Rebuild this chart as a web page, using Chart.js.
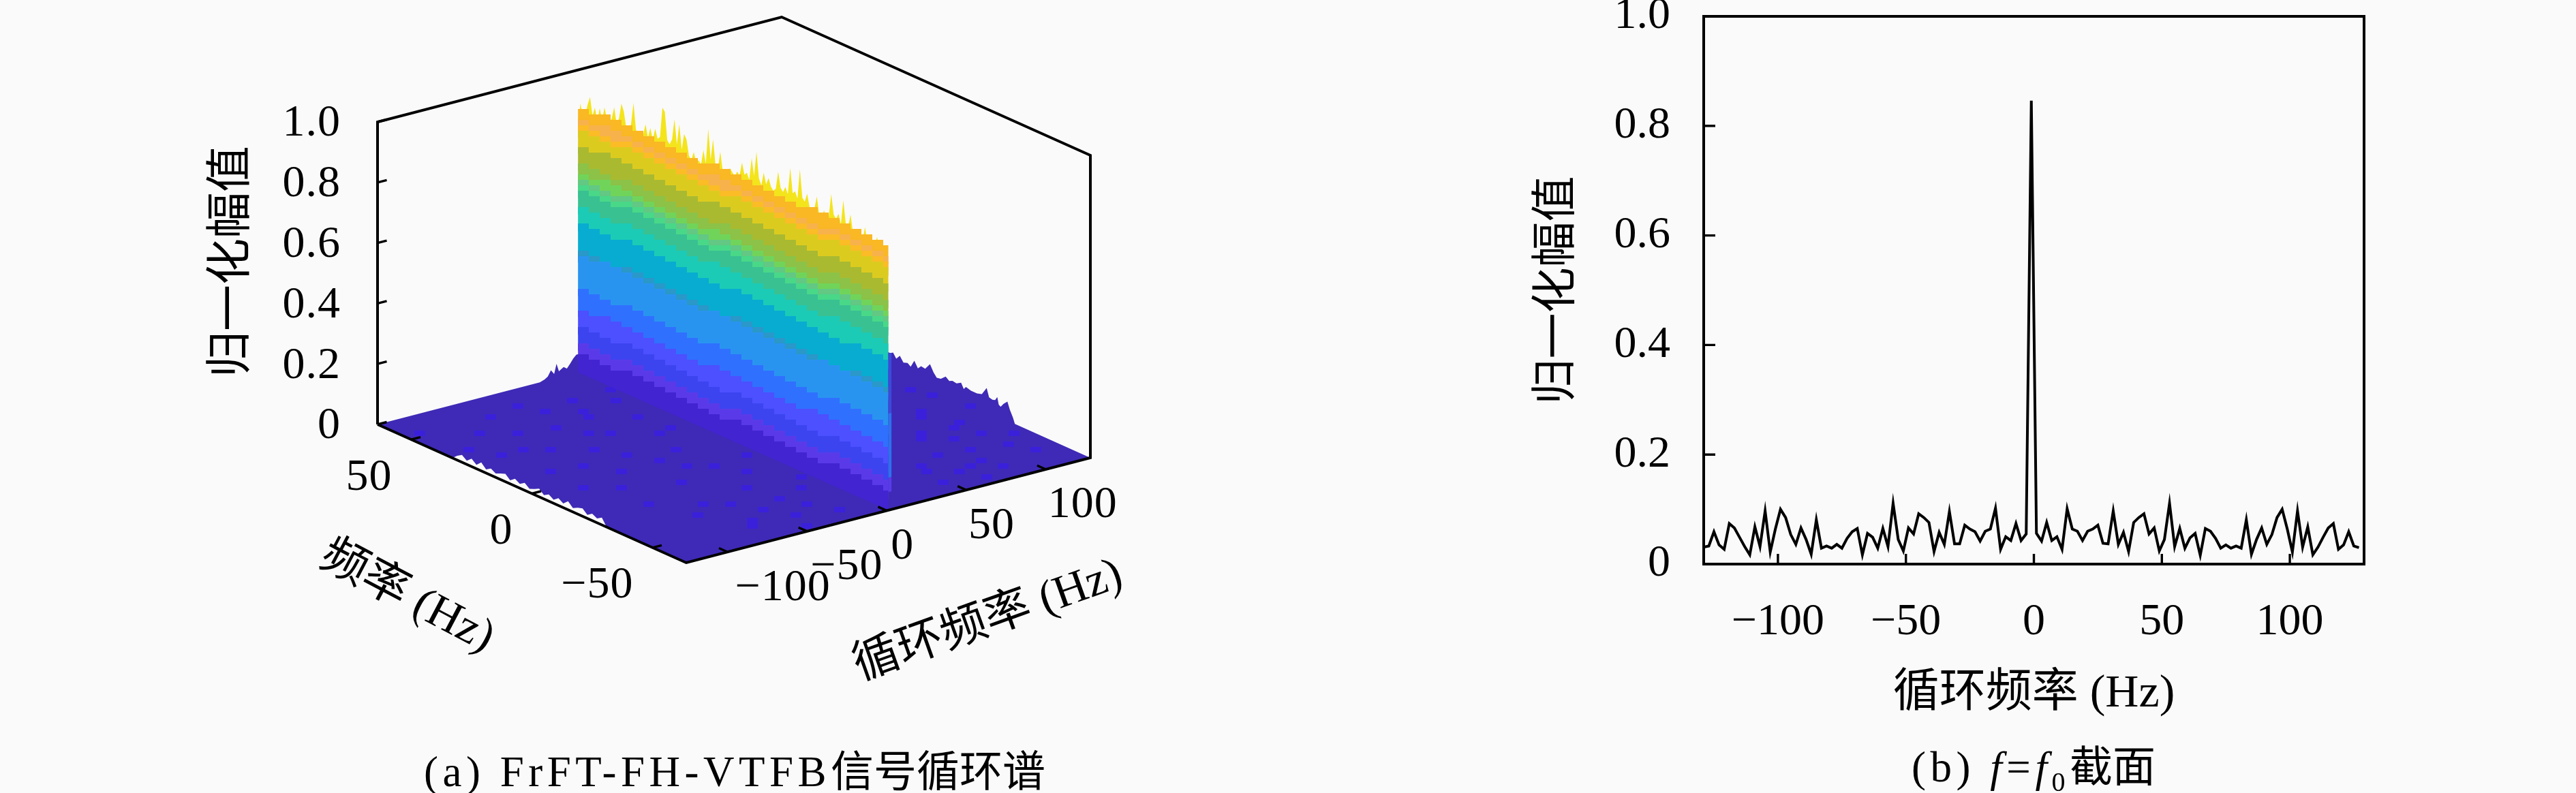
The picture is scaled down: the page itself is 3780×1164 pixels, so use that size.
<!DOCTYPE html>
<html>
<head>
<meta charset="utf-8">
<script src="https://cdn.jsdelivr.net/npm/chart.js@4/dist/chart.umd.min.js"></script>
<style>
  html, body { margin: 0; padding: 0; background: #fafafa; width: 3780px; height: 1164px; overflow: hidden; }
  canvas { position: absolute; top: 0; }
  .cap { position: absolute; white-space: nowrap; transform: translateX(-50%); color: #000;
         font-family: "Liberation Serif", "Noto Sans CJK SC"; font-size: 63px; line-height: 70px; }
  .cap .lat { letter-spacing: 6.5px; }
  .cap sub { font-size: 40px; line-height: 0; }
</style>
</head>
<body>
<canvas id="surf" width="1890" height="1164" style="left:0"></canvas>
<canvas id="slice" width="1300" height="1164" style="left:2200px"></canvas>
<div class="cap" style="left:1078px;top:1098px"><span class="lat">(a) FrFT-FH-VTFB</span>信号循环谱</div>
<div class="cap" style="left:2984px;top:1091px"><span class="lat">(b) <i>f</i>=<i>f</i><sub>0</sub></span>截面</div>
<script>
// ---- right panel: slice at f = f0
const cycleFreq = [-129,-127,-125,-123,-121,-119,-117,-115,-113,-111,-109,-107,-105,-103,-101,-99,-97,-95,-93,-91,-89,-87,-85,-83,-81,-79,-77,-75,-73,-71,-69,-67,-65,-63,-61,-59,-57,-55,-53,-51,-49,-47,-45,-43,-41,-39,-37,-35,-33,-31,-29,-27,-25,-23,-21,-19,-17,-15,-13,-11,-9,-7,-5,-3,-1,1,3,5,7,9,11,13,15,17,19,21,23,25,27,29,31,33,35,37,39,41,43,45,47,49,51,53,55,57,59,61,63,65,67,69,71,73,75,77,79,81,83,85,87,89,91,93,95,97,99,101,103,105,107,109,111,113,115,117,119,121,123,125,127];
const sliceAmp = [.031,.033,.059,.035,.027,.074,.066,.049,.032,.017,.068,.032,.097,.022,.064,.100,.085,.054,.036,.066,.045,.018,.081,.029,.033,.029,.036,.029,.047,.059,.065,.017,.056,.049,.029,.065,.032,.111,.045,.024,.066,.055,.092,.085,.076,.023,.058,.036,.096,.037,.037,.071,.064,.059,.042,.060,.064,.102,.027,.050,.043,.074,.043,.055,
  .846,
  .056,.042,.076,.043,.050,.027,.101,.064,.060,.043,.060,.064,.071,.038,.037,.097,.036,.058,.023,.076,.085,.092,.055,.066,.024,.045,.111,.032,.065,.029,.048,.056,.016,.065,.060,.047,.029,.035,.029,.033,.029,.081,.018,.045,.066,.036,.054,.085,.100,.064,.022,.097,.031,.068,.017,.031,.049,.066,.074,.027,.035,.059,.033,.030];

// ---- left panel: surface
const ridgeFreq = [64,63,62,61,60,59,58,57,56,55,54,53,52,51,50,49,48,47,46,45,44,43,42,41,40,39,38,37,36,35,34,33,32,31,30,29,28,27,26,25,24,23,22,21,20,19,18,17,16,15,14,13,12,11,10,9,8,7,6,5,4,3,2,1,0,-1,-2,-3,-4,-5,-6,-7,-8,-9,-10,-11,-12,-13,-14,-15,-16,-17,-18,-19,-20,-21,-22,-23,-24,-25,-26,-27,-28,-29,-30,-31,-32,-33,-34,-35,-36,-37,-38,-39,-40,-41,-42,-43,-44,-45,-46,-47,-48,-49,-50,-51,-52,-53,-54,-55,-56,-57,-58,-59,-60,-61,-62,-63];
const ridgeAmp = [.82,.893,.85,.86,.90,.928,.87,.90,.86,.905,.87,.915,.88,.87,.89,.93,.88,.90,.953,.93,.88,.87,.90,.973,.89,.87,.88,.88,.92,.88,.915,.88,.92,.89,.90,1.0,.99,.90,.89,.91,.98,.90,.97,.89,.945,.93,.88,.87,.90,.87,.88,.87,.92,.88,.998,.90,.97,.89,.88,.94,.88,.87,.88,.90,.89,.88,.90,.89,.937,.90,.91,.89,.965,.91,.993,.91,.89,.935,.90,.925,.90,.89,.90,.96,.91,.90,.92,.90,.99,.91,.92,.90,1.0,.91,.90,.93,.89,.88,.89,.935,.88,.87,.90,.88,.89,.965,.90,.89,.91,.88,.962,.89,.88,.925,.87,.88,.86,.89,.86,.905,.86,.85,.87,.86,.89,.85,.878,.83];
const wallLevels = [.87,.833,.813,.795,.743,.687,.653,.633,.615,.597,.543,.487,.397,.383,.273,.203,.146,.092,.056];
const wallColors = ['#f9b824','#f7b24c','#fbbc26','#dccb1f','#a9ba31','#8cc247','#70d45a','#62c884','#48d888','#39c192','#1ccbb6','#08acd0','#2a98c8','#2994f0','#3070ff','#4c50ff','#3c44f0','#5a3ae8','#4224d0'];
const sideLevels = [.518,.32,.107,.06];
const sideColors = ['#3c4ad8','#2f70ec','#5a3ae8'];
const backFreq = [30,19,17.8,16.5,15,13.5,11.8,10.5,9,7.5,6.2,4.5,2.5,1,-.3,-2,-4,-5.5,-6.8,-8.5,-10.4,-11.5,-12.4,-14.5,-17,-19,-21,-22,-23.4,-24.5,-25.4,-26,-26.8,-28,-29.6,-30.6,-31.9,-32.7];
const backAmp = [.05,.05,.056,.04,.055,.038,.043,.035,.06,.04,.052,.05,.072,.05,.037,.04,.054,.045,.05,.048,.057,.04,.05,.045,.045,.05,.077,.05,.047,.05,.063,.04,.036,.05,.063,.04,.018,0];
const shoulderFreq = [-24,-21,-19,-17,-15,-13.5,-12,-10.5,-9,-7,-5,-3,-1];
const shoulderAmp = [0,.005,.012,.03,.015,.047,.02,.025,.03,.022,.035,.05,.06];
const edgeFreq = [33,31,29,27,25,23,21,19,17,15,13,11,9,7,5,3,1,-1,-3,-5,-7,-9,-11,-13,-15,-17,-19,-21,-23,-25,-27,-29,-31];
const edgeAmp = [0,.014,.024,.012,.026,.013,.028,.012,.022,.013,.02,.026,.012,.024,.014,.025,.012,.019,.027,.013,.022,.012,.024,.014,.028,.013,.021,.026,.012,.023,.014,.024,0];
const patchAlpha = [-110,-98,-92,-85,-80,-74,-70,-66,-60,-58,-52,-50,-46,-42,-40,-36,-33,-30,-28,-24,-22,-20,-16,-14,-10,-8,-62,-78,-44,-18,30,52,64,77,90,104,112,70,96,60,50,56,70,74,85,88,92,102,106,110,118,120,116,84,98,124,-118,-104,-88,-76,-64,-56,-48,-38,-32,-26,-12,-6,-4,-68,-100,-90,-54,-30,-82,-44];
const patchFreq = [38,12,46,-8,25,54,2,-30,36,-14,12,48,-42,24,-6,38,-26,6,50,-44,18,-18,30,-36,44,-8,-48,-34,-58,-54,-30,-44,-50,-26,-38,-32,-50,-58,-12,-20,-52,-40,-36,-48,-20,-52,-28,-8,-42,-20,-2,-36,6,-46,-24,-14,54,30,-22,40,18,-34,30,-50,44,-8,20,-30,50,-52,-2,30,56,-38,10,4];
const zTicks = [0,.2,.4,.6,.8,1];
const alphaTicks = [-100,-50,0,50,100];
const freqTicks = [50,0,-50];
const alphaLabelShift = [81,58,23,37,54];

const SERIF = '"Liberation Serif"';
const MIXED = '"Liberation Serif","Noto Sans CJK SC"';

// axis ranges of the surface box
const A0 = -126, A1 = 128, F0 = -64, F1 = 64;

// 3D -> view coordinates, view box of the chart is the canvas itself
function project(a, f, z) {
  const u = (a - A0) / (A1 - A0), v = (f - F0) / (F1 - F0);
  return { x: 1007 + 593 * u - 453 * v, y: 826 - 154 * u - 203 * v - 444 * z };
}
const snap = (y, s) => Math.round(y / s) * s;

function poly(points, color) {
  return { data: points, showLine: true, fill: 'shape', backgroundColor: color, borderWidth: 0, borderColor: 'transparent', pointRadius: 0 };
}

// floor, lifted a bit on its noisy edges
function floorPoints() {
  const pts = [project(A0, F1, 0)];
  shoulderFreq.forEach((a, i) => pts.push(project(a, F1, shoulderAmp[i])));
  pts.push(project(0, F1, .06));
  backFreq.forEach((f, i) => pts.push(project(A1, f, backAmp[i])));
  pts.push(project(A1, F0, 0), project(A0, F0, 0));
  for (let i = edgeFreq.length - 1; i >= 0; i--) pts.push(project(A0, edgeFreq[i], edgeAmp[i]));
  return pts;
}

// stair edge of one colour band on the ridge wall, bottom stops at zLow
function bandPoints(z, zLow) {
  const pts = [];
  let prevY = null, prevX = null;
  ridgeFreq.forEach(f => {
    const p = project(0, f, z);
    const x = f === ridgeFreq[0] ? p.x : snap(p.x, 16);
    if (x === prevX) return;
    const y = snap(p.y, 8);
    if (prevY !== null) pts.push({ x, y: prevY });
    pts.push({ x, y });
    prevX = x; prevY = y;
  });
  const end = project(1, F0, z);
  pts.push({ x: end.x, y: prevY }, project(1, F0, zLow), project(0, F1, zLow));
  return pts;
}

const layers = [];
layers.push(poly(floorPoints(), '#3e2ab6'));
patchAlpha.forEach((a, i) => {
  const p = project(a, patchFreq[i], 0);
  const x = snap(p.x, 8), y = snap(p.y, 8);
  layers.push(poly([{x, y}, {x: x + 16, y}, {x: x + 16, y: y + 8}, {x, y: y + 8}], '#3a20da'));
});
const topEdge = ridgeFreq.map((f, i) => project(0, f, ridgeAmp[i]));
layers.push(poly([...topEdge, project(1, F0, wallLevels[0] - .03), project(0, F1, wallLevels[0] - .03)], '#f4e41c'));
wallLevels.forEach((z, i) => {
  const next = i + 1 < wallLevels.length ? Math.max(wallLevels[i + 1] - .02, 0) : 0;
  layers.push(poly(bandPoints(z, next), wallColors[i]));
});
// thin side face at the near end of the ridge
sideColors.forEach((c, i) => {
  const hi = sideLevels[i], lo = sideLevels[i + 1];
  layers.push(poly([project(1, F0, hi), project(3, F0, hi), project(3, F0, lo), project(1, F0, lo)], c));
});
layers.push({
  data: [project(A0, F1, 0), project(A0, F1, 1), project(A1, F1, 1), project(A1, F0, 1), project(A1, F0, 0), project(A0, F0, 0), project(A0, F1, 0)],
  showLine: true, fill: false, borderColor: '#000', borderWidth: 4, pointRadius: 0, borderJoinStyle: 'miter'
});
layers.forEach((d, i) => { d.order = layers.length - i; });

const boxLabels = {
  id: 'boxLabels',
  afterDatasetsDraw(chart) {
    const { ctx, scales: { x, y } } = chart;
    const px = p => ({ x: x.getPixelForValue(p.x), y: y.getPixelForValue(p.y) });
    const tick = (a, b) => {
      const s = px(a), e = px(b);
      ctx.beginPath(); ctx.moveTo(s.x, s.y); ctx.lineTo(e.x, e.y); ctx.stroke();
    };
    const text = (str, tx, ty, align) => { ctx.textAlign = align; ctx.fillText(str, tx, ty); };
    ctx.save();
    ctx.strokeStyle = '#000'; ctx.lineWidth = 3.4; ctx.fillStyle = '#000';
    ctx.textBaseline = 'middle';
    ctx.font = '66px ' + SERIF;
    ctx.letterSpacing = '1px';
    zTicks.forEach(z => {
      tick(project(A0, F1, z), project(A0 + 5.8, F1, z));
      const p = px(project(A0, F1, z));
      text(z === 0 ? '0' : z.toFixed(1), p.x - 54, p.y + 3, 'right');
    });
    freqTicks.forEach(f => {
      tick(project(A0, f, 0), project(A0 + 5.8, f, 0));
      const p = px(project(A0, f, 0));
      text(String(f).replace('-', '\u2212'), p.x - 28, p.y + 56, 'right');
    });
    alphaTicks.forEach((a, i) => {
      tick(project(a, F0, 0), project(a, F0 + 3.6, 0));
      const p = px(project(a, F0, 0));
      text(String(a).replace('-', '\u2212'), p.x + alphaLabelShift[i], p.y + 53, 'center');
    });
    ctx.letterSpacing = '0px';
    ctx.font = '68px ' + MIXED;
    const rotated = (str, cx, cy, deg) => {
      ctx.save(); ctx.translate(cx, cy); ctx.rotate(deg * Math.PI / 180);
      ctx.textAlign = 'center'; ctx.fillText(str, 0, 0); ctx.restore();
    };
    rotated('归一化幅值', 342, 384, -90);
    rotated('频率 (Hz)', 597, 877, 27.8);
    rotated('循环频率 (Hz)', 1450, 912, -19.7);
    ctx.restore();
  }
};

new Chart(document.getElementById('surf'), {
  type: 'scatter',
  data: { datasets: layers },
  options: {
    responsive: false, animation: false, devicePixelRatio: 1,
    layout: { padding: 0 },
    plugins: { legend: { display: false }, tooltip: { enabled: false } },
    scales: {
      x: { type: 'linear', display: false, min: 0, max: 1890 },
      y: { type: 'linear', display: false, min: 0, max: 1164, reverse: true }
    }
  },
  plugins: [boxLabels]
});

const innerFrame = {
  id: 'innerFrame',
  afterDatasetsDraw(chart) {
    const { ctx, chartArea: a, scales: { x, y } } = chart;
    ctx.save();
    ctx.strokeStyle = '#000'; ctx.lineWidth = 4;
    ctx.strokeRect(a.left, a.top, a.right - a.left, a.bottom - a.top);
    ctx.lineWidth = 3.4;
    ctx.beginPath();
    x.ticks.forEach(t => { const p = x.getPixelForValue(t.value); ctx.moveTo(p, a.bottom); ctx.lineTo(p, a.bottom - 15); });
    y.ticks.forEach(t => { const p = y.getPixelForValue(t.value); ctx.moveTo(a.left, p); ctx.lineTo(a.left + 17, p); });
    ctx.stroke();
    ctx.restore();
  }
};

new Chart(document.getElementById('slice'), {
  type: 'line',
  data: {
    datasets: [{
      data: cycleFreq.map((v, i) => ({ x: v, y: sliceAmp[i] })),
      borderColor: '#000', borderWidth: 4, pointRadius: 0, tension: 0, borderJoinStyle: 'miter'
    }]
  },
  options: {
    responsive: false, animation: false, devicePixelRatio: 1,
    layout: { padding: { top: 24, right: 31, left: 0, bottom: 0 } },
    plugins: { legend: { display: false }, tooltip: { enabled: false } },
    scales: {
      x: {
        type: 'linear', min: -129, max: 129,
        grid: { display: false, drawTicks: false }, border: { display: false },
        ticks: {
          stepSize: 50, includeBounds: false, maxRotation: 0, autoSkip: false, padding: 46, color: '#000',
          font: { family: SERIF, size: 66 },
          callback: v => String(v).replace('-', '\u2212')
        },
        title: { display: true, text: '循环频率 (Hz)', color: '#000', font: { family: MIXED, size: 68 }, padding: { top: 0, bottom: 104 } },
        afterFit(s) { s.height = 336; s.paddingLeft = 0; s.paddingRight = 0; }
      },
      y: {
        type: 'linear', min: 0, max: 1,
        grid: { display: false, drawTicks: false }, border: { display: false },
        ticks: {
          stepSize: .2, padding: 49, color: '#000',
          font: { family: SERIF, size: 66 },
          callback: v => (v === 0 ? '0' : v.toFixed(1))
        },
        title: { display: true, text: '归一化幅值', color: '#000', font: { family: MIXED, size: 67 }, padding: { top: 46, bottom: 0 } },
        afterFit(s) { s.width = 300; s.paddingTop = 0; s.paddingBottom = 0; }
      }
    }
  },
  plugins: [innerFrame]
});
</script>
</body>
</html>
